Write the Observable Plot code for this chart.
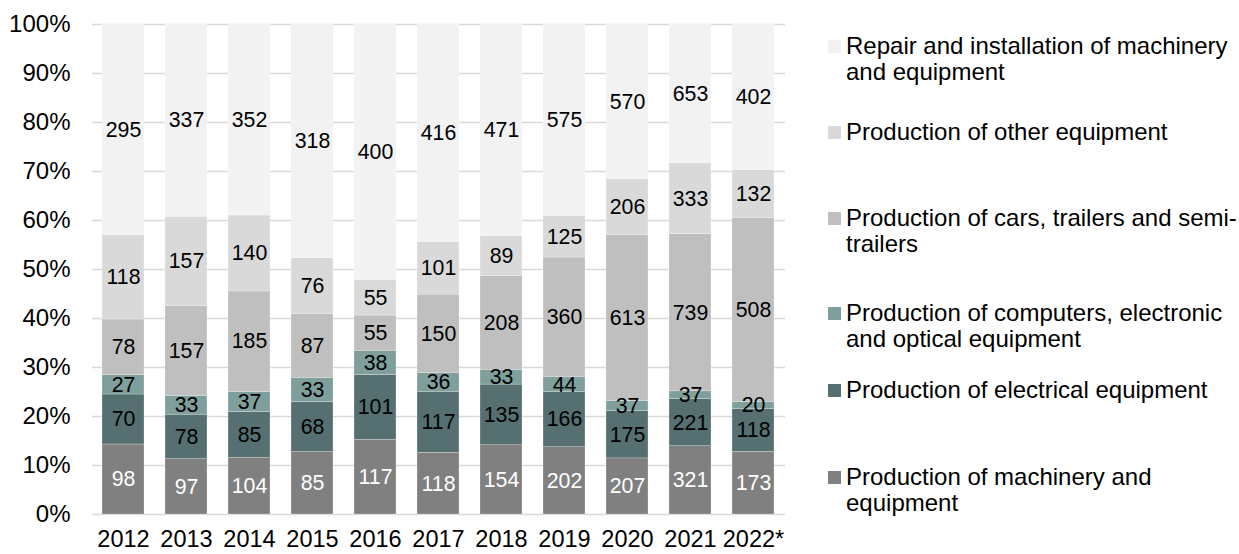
<!DOCTYPE html>
<html><head><meta charset="utf-8">
<script src="https://cdn.jsdelivr.net/npm/d3@7"></script>
<script src="https://cdn.jsdelivr.net/npm/@observablehq/plot@0.6"></script>
<style>
body{margin:0;background:#fff;font-family:"Liberation Sans",Arial,sans-serif;}
#wrap{position:relative;width:1239px;height:554px;overflow:hidden}
#chart{position:absolute;left:0;top:0;}
.leg{position:absolute;left:828px;font-size:24px;line-height:26px;color:#000;white-space:pre-line;padding-left:18px}
.sw{position:absolute;left:0;top:7px;width:13px;height:13px}
</style></head><body>
<div id="wrap"><div id="chart"></div></div>
<script>
const years = ["2012","2013","2014","2015","2016","2017","2018","2019","2020","2021","2022*"];
const seriesNames = [
  "Production of machinery and equipment",
  "Production of electrical equipment",
  "Production of computers, electronic and optical equipment",
  "Production of cars, trailers and semi-trailers",
  "Production of other equipment",
  "Repair and installation of machinery and equipment"
];
const legendLabels = [
  "Production of machinery and\nequipment",
  "Production of electrical equipment",
  "Production of computers, electronic\nand optical equipment",
  "Production of cars, trailers and semi-\ntrailers",
  "Production of other equipment",
  "Repair and installation of machinery\nand equipment"
];
const seriesColors = ["#808080","#566f70","#7f9f9c","#bfbfbf","#d9d9d9","#f2f2f2"];
const machinery  = [98,97,104,85,117,118,154,202,207,321,173];
const electrical = [70,78,85,68,101,117,135,166,175,221,118];
const computers  = [27,33,37,33,38,36,33,44,37,37,20];
const cars       = [78,157,185,87,55,150,208,360,613,739,508];
const other      = [118,157,140,76,55,101,89,125,206,333,132];
const repair     = [295,337,352,318,400,416,471,575,570,653,402];
const yTicks = [0,0.1,0.2,0.3,0.4,0.5,0.6,0.7,0.8,0.9,1];

const seriesValues = [machinery, electrical, computers, cars, other, repair];
const data = [];
seriesNames.forEach((s, i) => years.forEach((y, j) => data.push({year: y, series: s, value: seriesValues[i][j]})));

const stackOpts = {x: "year", y: "value", z: "series", offset: "normalize", order: seriesNames};

const chart = Plot.plot({
  width: 800, height: 554,
  marginLeft: 92, marginRight: 15, marginTop: 24, marginBottom: 40,
  style: {fontFamily: "'Liberation Sans', Arial, sans-serif", fontSize: "24px", color: "#000", background: "#fff"},
  x: {domain: years, paddingInner: 0.333, paddingOuter: 0.16, label: null, tickSize: 0, tickPadding: 16},
  y: {domain: [0, 1], ticks: yTicks, tickFormat: d => Math.round(d * 100) + "%", label: null, tickSize: 0, tickPadding: 22},
  color: {domain: seriesNames, range: seriesColors},
  marks: [
    Plot.gridY(yTicks, {stroke: "#d9d9d9", strokeOpacity: 1, strokeWidth: 1.5}),
    Plot.barY(data, Plot.stackY({...stackOpts, fill: "series", stroke: "#ffffff", strokeWidth: 0.4, strokeOpacity: 0.6})),
    Plot.text(data, Plot.stackY({...stackOpts, text: "value", fill: d => d.series === seriesNames[0] ? "#ffffff" : "#000000", fontSize: 21.3})),
    Plot.axisX({tickSize: 0, tickPadding: 16, fontSize: 23.5}),
    Plot.axisY({ticks: yTicks, tickFormat: d => Math.round(d * 100) + "%", tickSize: 0, tickPadding: 22, fontSize: 24})
  ]
});
document.getElementById("chart").appendChild(chart);

// legend (top to bottom: reverse of stacking order)
const legTops = [464, 377, 300, 205, 119, 33];
const wrap = document.getElementById("wrap");
seriesNames.forEach((s, i) => {
  const d = document.createElement("div");
  d.className = "leg";
  d.style.top = legTops[i] + "px";
  const sw = document.createElement("span");
  sw.className = "sw";
  sw.style.background = seriesColors[i];
  d.appendChild(sw);
  d.appendChild(document.createTextNode(legendLabels[i]));
  wrap.appendChild(d);
});
</script>
</body></html>
